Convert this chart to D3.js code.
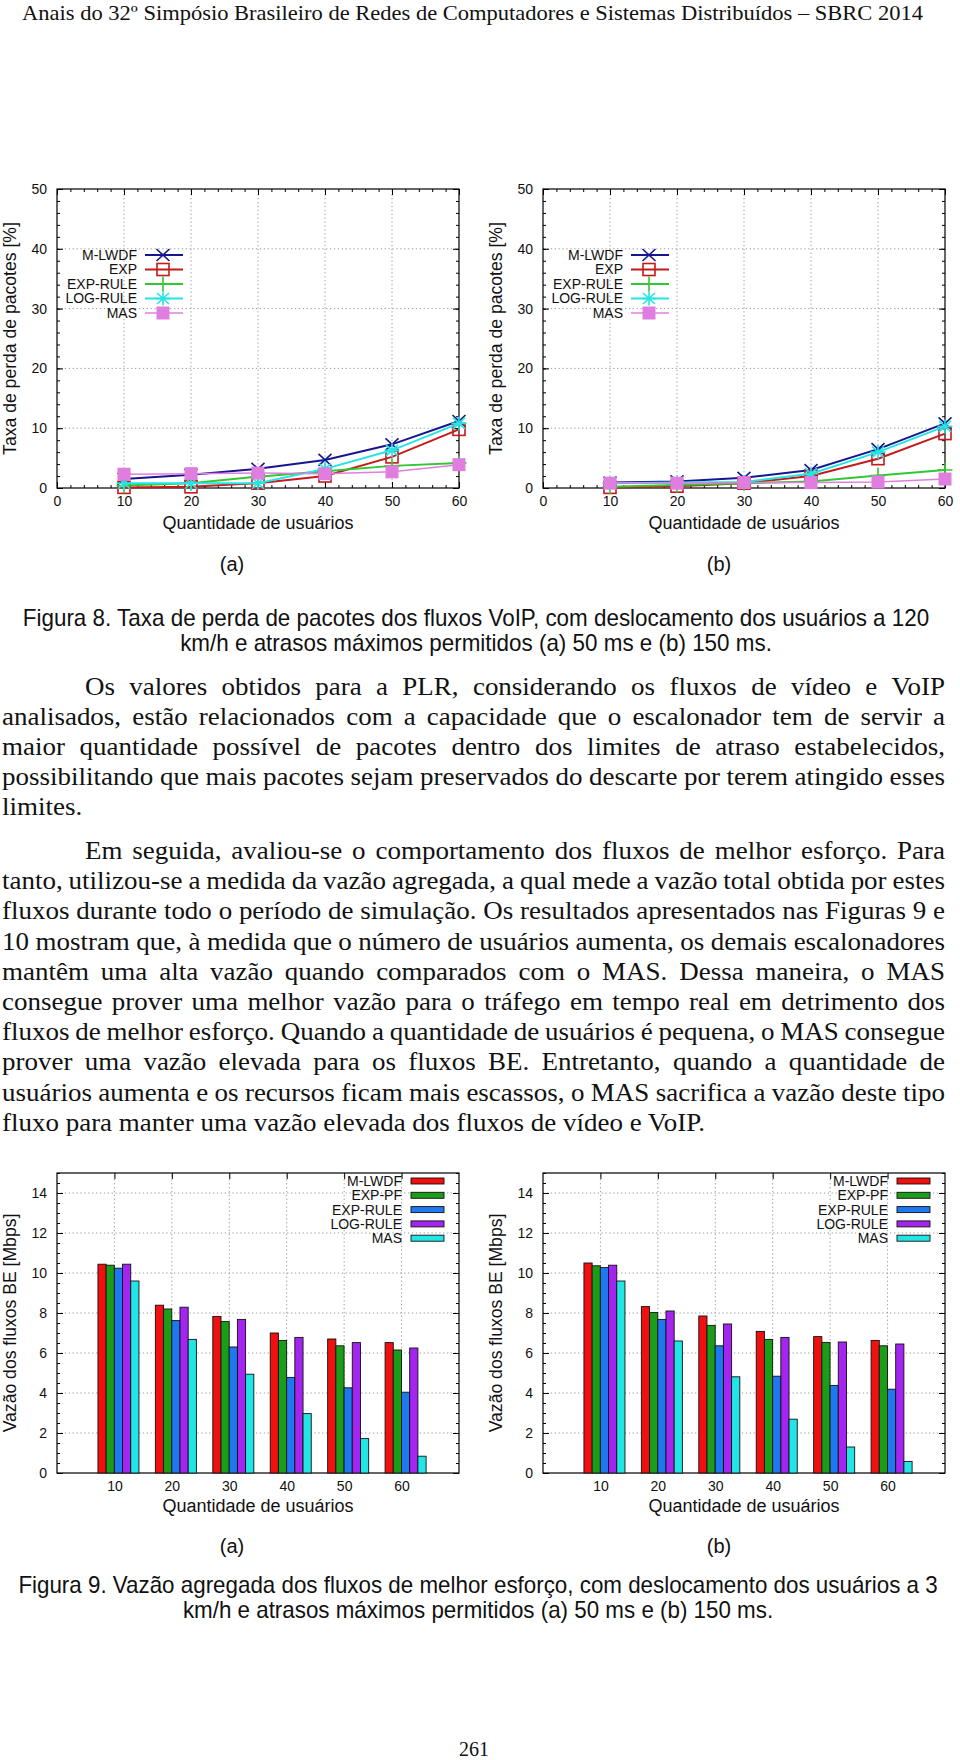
<!DOCTYPE html>
<html><head><meta charset="utf-8">
<script src="https://cdn.jsdelivr.net/npm/d3@7"></script>
<style>html,body{margin:0;padding:0;background:#fff;} svg{display:block;}</style>
</head><body><svg id="page" width="960" height="1760"></svg>
<script>
// ---------------- DATA ----------------
const users = [10, 20, 30, 40, 50, 60];
const plrNames = ["M-LWDF", "EXP", "EXP-RULE", "LOG-RULE", "MAS"];
const plrXTicks = [0, 10, 20, 30, 40, 50, 60];
const plrYTicks = [0, 10, 20, 30, 40, 50];

// Figura 8 (a) 50 ms
const plrA_MLWDF   = [1.5, 2.2, 3.2, 4.7, 7.3, 11.2];
const plrA_EXP     = [0.1, 0.2, 0.8, 2.0, 5.2, 9.8];
const plrA_EXPRULE = [0.4, 0.8, 1.9, 2.8, 3.7, 4.2];
const plrA_LOGRULE = [0.8, 0.8, 0.8, 3.2, 6.3, 10.8];
const plrA_MAS     = [2.3, 2.4, 2.5, 2.4, 2.7, 3.9];
// Figura 8 (b) 150 ms
const plrB_MLWDF   = [0.9, 1.1, 1.7, 3.0, 6.5, 10.8];
const plrB_EXP     = [0.1, 0.3, 0.8, 2.0, 4.9, 9.1];
const plrB_EXPRULE = [0.2, 0.5, 0.8, 1.1, 2.1, 3.0];
const plrB_LOGRULE = [0.8, 0.9, 1.0, 2.4, 6.0, 10.3];
const plrB_MAS     = [0.8, 0.8, 0.9, 0.9, 1.0, 1.5];

const bwNames = ["M-LWDF", "EXP-PF", "EXP-RULE", "LOG-RULE", "MAS"];
const bwYTicks = [0, 2, 4, 6, 8, 10, 12, 14];
// Figura 9 (a) 50 ms
const bwA_MLWDF   = [10.44, 8.39, 7.83, 7.00, 6.70, 6.52];
const bwA_EXPPF   = [10.39, 8.20, 7.57, 6.63, 6.36, 6.15];
const bwA_EXPRULE = [10.24, 7.62, 6.30, 4.78, 4.26, 4.04];
const bwA_LOGRULE = [10.44, 8.29, 7.68, 6.78, 6.52, 6.25];
const bwA_MAS     = [9.60, 6.68, 4.94, 2.97, 1.72, 0.84];
// Figura 9 (b) 150 ms
const bwB_MLWDF   = [10.50, 8.32, 7.85, 7.08, 6.82, 6.63];
const bwB_EXPPF   = [10.36, 8.02, 7.38, 6.68, 6.53, 6.36];
const bwB_EXPRULE = [10.27, 7.68, 6.36, 4.84, 4.38, 4.19];
const bwB_LOGRULE = [10.39, 8.10, 7.45, 6.78, 6.55, 6.45];
const bwB_MAS     = [9.60, 6.60, 4.81, 2.69, 1.30, 0.58];

const headerText = "Anais do 32º Simpósio Brasileiro de Redes de Computadores e Sistemas Distribuídos – SBRC 2014";
const fig8Caption = ["Figura 8. Taxa de perda de pacotes dos fluxos VoIP, com deslocamento dos usuários a 120",
                     "km/h e atrasos máximos permitidos (a) 50 ms e (b) 150 ms."];
const fig9Caption = ["Figura 9. Vazão agregada dos fluxos de melhor esforço, com deslocamento dos usuários a 3",
                     "km/h e atrasos máximos permitidos (a) 50 ms e (b) 150 ms."];
const para1 = [
  "Os valores obtidos para a PLR, considerando os fluxos de vídeo e VoIP",
  "analisados, estão relacionados com a capacidade que o escalonador tem de servir a",
  "maior quantidade possível de pacotes dentro dos limites de atraso estabelecidos,",
  "possibilitando que mais pacotes sejam preservados do descarte por terem atingido esses",
  "limites."
];
const para2 = [
  "Em seguida, avaliou-se o comportamento dos fluxos de melhor esforço. Para",
  "tanto, utilizou-se a medida da vazão agregada, a qual mede a vazão total obtida por estes",
  "fluxos durante todo o período de simulação. Os resultados apresentados nas Figuras 9 e",
  "10 mostram que, à medida que o número de usuários aumenta, os demais escalonadores",
  "mantêm uma alta vazão quando comparados com o MAS. Dessa maneira, o MAS",
  "consegue prover uma melhor vazão para o tráfego em tempo real em detrimento dos",
  "fluxos de melhor esforço. Quando a quantidade de usuários é pequena, o MAS consegue",
  "prover uma vazão elevada para os fluxos BE. Entretanto, quando a quantidade de",
  "usuários aumenta e os recursos ficam mais escassos, o MAS sacrifica a vazão deste tipo",
  "fluxo para manter uma vazão elevada dos fluxos de vídeo e VoIP."
];
const pageNumber = "261";

// ---------------- STYLE ----------------
const SERIF = "'Liberation Serif', 'Times New Roman', serif";
const SANS = "'Liberation Sans', Arial, sans-serif";
const plrColors = ["#16168e", "#c41a1a", "#30c830", "#24e4e4", "#e07ee0"];
const bwColors = ["#f01010", "#1a9e1a", "#1e78f0", "#a424f0", "#22e6e6"];

const svg = d3.select("#page");
svg.append("rect").attr("width", 960).attr("height", 1760).attr("fill", "#fff");

// ---------------- TEXT HELPERS ----------------
const meas = svg.append("text").attr("visibility", "hidden");
function textWidth(s, family, size) {
  meas.attr("font-family", family).attr("font-size", size).text(s);
  return meas.node().getComputedTextLength();
}

// header
svg.append("text").attr("x", 22).attr("y", 20)
  .attr("font-family", SERIF).attr("font-size", 21.5).attr("fill", "#111")
  .attr("textLength", 901).attr("lengthAdjust", "spacingAndGlyphs")
  .text(headerText);

// body paragraphs (horizontally widened serif, justified)
const BFS = 26, BSX = 1.038, TX0 = 2, TX1 = 945, INDENT = 83;
function bodyLine(str, x0, x1, y, justify) {
  const t = svg.append("text").attr("font-family", SERIF).attr("font-size", BFS)
    .attr("fill", "#111").attr("y", y).attr("transform", `scale(${BSX},1)`);
  if (!justify) { t.attr("x", x0 / BSX).text(str); return; }
  const words = str.split(" ");
  const ws = words.map(w => textWidth(w, SERIF, BFS) * BSX);
  const gap = (x1 - x0 - d3.sum(ws)) / (words.length - 1);
  let x = x0;
  words.forEach((w, i) => { t.append("tspan").attr("x", x / BSX).text(w); x += ws[i] + gap; });
}
function paragraph(lines, y0, step) {
  lines.forEach((s, i) => {
    const last = i === lines.length - 1;
    bodyLine(s, i === 0 ? TX0 + INDENT : TX0, TX1, y0 + i * step, !last);
  });
}
paragraph(para1, 695, 30.0);
paragraph(para2, 859, 30.2);

// captions
function caption(lines, y0, width, cx) {
  const fs = 23;
  const nat = textWidth(lines[0], SANS, fs);
  const sx = width / nat;
  lines.forEach((s, i) => {
    svg.append("text").attr("transform", `translate(${cx},${y0 + i * 24.5}) scale(${sx},1)`)
      .attr("text-anchor", "middle").attr("font-family", SANS).attr("font-size", fs)
      .attr("fill", "#111").text(s);
  });
}
caption(fig8Caption, 626, 907, 476);
caption(fig9Caption, 1593, 920, 478);

function subLabel(txt, x, y) {
  svg.append("text").attr("x", x).attr("y", y).attr("text-anchor", "middle")
    .attr("font-family", SANS).attr("font-size", 20).attr("fill", "#111").text(txt);
}
subLabel("(a)", 232, 571); subLabel("(b)", 719, 571);
subLabel("(a)", 232, 1553); subLabel("(b)", 719, 1553);

svg.append("text").attr("x", 474).attr("y", 1756).attr("text-anchor", "middle")
  .attr("font-family", SERIF).attr("font-size", 20).attr("fill", "#111").text(pageNumber);

// ---------------- CHART HELPERS ----------------
function styleAxis(sel) {
  sel.select(".domain").remove();
  sel.attr("font-family", SANS).attr("font-size", 14);
  sel.selectAll(".tick line").attr("stroke", "#000").attr("stroke-width", 1);
  sel.selectAll(".tick text").attr("fill", "#111");
}
function frameAxes(g, x, y, xTicks, yTicks, xFmt, xMinor, yMinor) {
  const [x0, x1] = x.range(), [yb, yt] = y.range();
  // grid
  g.append("g").selectAll("line").data(xTicks.filter(d => x(d) > x0 + 1 && x(d) < x1 - 1)).join("line")
    .attr("x1", d => x(d)).attr("x2", d => x(d)).attr("y1", yb).attr("y2", yt)
    .attr("stroke", "#9c9c9c").attr("stroke-width", 1).attr("stroke-dasharray", "1.3,2.6");
  g.append("g").selectAll("line").data(yTicks.filter(d => y(d) < yb - 1 && y(d) > yt + 1)).join("line")
    .attr("x1", x0).attr("x2", x1).attr("y1", d => y(d)).attr("y2", d => y(d))
    .attr("stroke", "#9c9c9c").attr("stroke-width", 1).attr("stroke-dasharray", "1.3,2.6");
  // minor ticks
  if (xMinor) {
    g.append("g").attr("transform", `translate(0,${yb})`).call(d3.axisBottom(x).tickValues(xMinor).tickSize(-3).tickFormat("")).call(styleAxis);
    g.append("g").attr("transform", `translate(0,${yt})`).call(d3.axisTop(x).tickValues(xMinor).tickSize(-3).tickFormat("")).call(styleAxis);
  }
  if (yMinor) {
    g.append("g").attr("transform", `translate(${x0},0)`).call(d3.axisLeft(y).tickValues(yMinor).tickSize(-3).tickFormat("")).call(styleAxis);
    g.append("g").attr("transform", `translate(${x1},0)`).call(d3.axisRight(y).tickValues(yMinor).tickSize(-3).tickFormat("")).call(styleAxis);
  }
  // major axes
  g.append("g").attr("transform", `translate(0,${yb})`)
    .call(d3.axisBottom(x).tickValues(xTicks).tickSize(-6).tickPadding(8).tickFormat(xFmt)).call(styleAxis);
  g.append("g").attr("transform", `translate(0,${yt})`)
    .call(d3.axisTop(x).tickValues(xTicks).tickSize(-6).tickFormat("")).call(styleAxis);
  g.append("g").attr("transform", `translate(${x0},0)`)
    .call(d3.axisLeft(y).tickValues(yTicks).tickSize(-6).tickPadding(10)).call(styleAxis);
  g.append("g").attr("transform", `translate(${x1},0)`)
    .call(d3.axisRight(y).tickValues(yTicks).tickSize(-6).tickFormat("")).call(styleAxis);
  // frame
  g.append("rect").attr("x", x0).attr("y", yt).attr("width", x1 - x0).attr("height", yb - yt)
    .attr("fill", "none").attr("stroke", "#000").attr("stroke-width", 1.2);
}
function titles(g, x0, x1, yb, yt, xTitle, yTitle, xTitleY) {
  g.append("text").attr("x", (x0 + x1) / 2).attr("y", xTitleY).attr("text-anchor", "middle")
    .attr("font-family", SANS).attr("font-size", 18).attr("fill", "#111").text(xTitle);
  g.append("text").attr("transform", `translate(${x0 - 41},${(yb + yt) / 2}) rotate(-90)`)
    .attr("text-anchor", "middle").attr("font-family", SANS).attr("font-size", 17.6)
    .attr("fill", "#111").text(yTitle);
}

// markers
const markerPaths = [
  "M-6.5,-6L6.5,6M-6.5,6L6.5,-6",                          // X
  null,                                                    // open square
  "M-7.5,0H7.5M0,-7.5V7.5",                                // plus
  "M-7.5,0H7.5M0,-7V7M-6,-5.5L6,5.5M-6,5.5L6,-5.5",        // asterisk
  null                                                     // filled square
];
function drawMarker(g, k, cx, cy, color) {
  if (k === 1) {
    g.append("rect").attr("x", cx - 6).attr("y", cy - 6).attr("width", 12).attr("height", 12)
      .attr("fill", "none").attr("stroke", color).attr("stroke-width", 1.6);
  } else if (k === 4) {
    g.append("rect").attr("x", cx - 6.5).attr("y", cy - 6.5).attr("width", 13).attr("height", 13)
      .attr("fill", color);
  } else {
    g.append("path").attr("transform", `translate(${cx},${cy})`).attr("d", markerPaths[k])
      .attr("stroke", color).attr("stroke-width", 1.6).attr("fill", "none");
  }
}

function plrChart(ox, series) {
  const x = d3.scaleLinear().domain([0, 60]).range([ox, ox + 402]);
  const y = d3.scaleLinear().domain([0, 50]).range([488, 189]);
  const g = svg.append("g");
  frameAxes(g, x, y, plrXTicks, plrYTicks, d3.format("d"), d3.range(0, 61, 2), d3.range(0, 51, 2));
  titles(g, ox, ox + 402, 488, 189, "Quantidade de usuários", "Taxa de perda de pacotes [%]", 529);
  const line = d3.line().x((d, i) => x(users[i])).y(d => y(d));
  series.forEach((vals, k) => {
    g.append("path").attr("d", line(vals)).attr("fill", "none").attr("stroke", plrColors[k])
      .attr("stroke-width", k === 4 ? 1.5 : 2);
    vals.forEach((v, i) => drawMarker(g, k, x(users[i]), y(v), plrColors[k]));
  });
  // legend
  const ly = [255, 269.5, 284, 298.5, 313];
  plrNames.forEach((n, k) => {
    g.append("text").attr("x", ox + 80).attr("y", ly[k]).attr("dy", "0.35em").attr("text-anchor", "end")
      .attr("font-family", SANS).attr("font-size", 14).attr("fill", "#111").text(n);
    g.append("line").attr("x1", ox + 88).attr("x2", ox + 126).attr("y1", ly[k]).attr("y2", ly[k])
      .attr("stroke", plrColors[k]).attr("stroke-width", k === 4 ? 1.5 : 2);
    drawMarker(g, k, ox + 106, ly[k], plrColors[k]);
  });
}
plrChart(57, [plrA_MLWDF, plrA_EXP, plrA_EXPRULE, plrA_LOGRULE, plrA_MAS]);
plrChart(543, [plrB_MLWDF, plrB_EXP, plrB_EXPRULE, plrB_LOGRULE, plrB_MAS]);

function bwChart(ox, series) {
  const x = d3.scaleLinear().domain([0, 7]).range([ox, ox + 402]);
  const y = d3.scaleLinear().domain([0, 15]).range([1473, 1173]);
  const g = svg.append("g");
  const cats = d3.range(1, users.length + 1);
  frameAxes(g, x, y, cats, bwYTicks, d => users[d - 1], null, d3.range(0, 15.01, 0.5));
  titles(g, ox, ox + 402, 1473, 1173, "Quantidade de usuários", "Vazão dos fluxos BE [Mbps]", 1512);
  const bw = x(1 / 7) - x(0);
  series.forEach((vals, k) => {
    g.append("g").selectAll("rect").data(vals).join("rect")
      .attr("x", (d, i) => x(cats[i] + (k - 2.5) / 7 + 0.07))
      .attr("y", d => y(d)).attr("width", bw).attr("height", d => y(0) - y(d))
      .attr("fill", bwColors[k]).attr("stroke", "#111").attr("stroke-width", 0.9);
  });
  const ly = [1181, 1195.3, 1209.6, 1223.9, 1238.2];
  bwNames.forEach((n, k) => {
    g.append("text").attr("x", ox + 345).attr("y", ly[k]).attr("dy", "0.35em").attr("text-anchor", "end")
      .attr("font-family", SANS).attr("font-size", 14).attr("fill", "#111").text(n);
    g.append("rect").attr("x", ox + 354).attr("y", ly[k] - 3).attr("width", 33).attr("height", 6)
      .attr("fill", bwColors[k]).attr("stroke", "#111").attr("stroke-width", 0.9);
  });
}
bwChart(57, [bwA_MLWDF, bwA_EXPPF, bwA_EXPRULE, bwA_LOGRULE, bwA_MAS]);
bwChart(543, [bwB_MLWDF, bwB_EXPPF, bwB_EXPRULE, bwB_LOGRULE, bwB_MAS]);
meas.remove();
</script>
</body></html>
